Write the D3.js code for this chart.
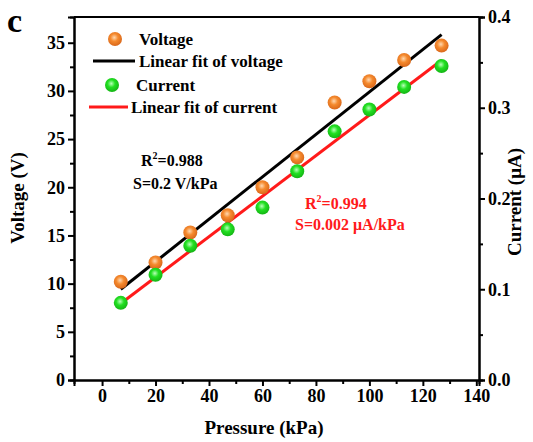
<!DOCTYPE html>
<html>
<head>
<meta charset="utf-8">
<script src="https://cdn.jsdelivr.net/npm/d3@7"></script>
<style>
  body { margin: 0; background: #fff; }
  text { font-family: "Liberation Serif", "Times New Roman", serif; font-weight: bold; }
</style>
</head>
<body>
<svg id="chart"></svg>
<script>
var pressure = [7, 20, 33, 47, 60, 73, 87, 100, 113, 127];
var voltage = [10.2, 12.2, 15.3, 17.1, 20.0, 23.1, 28.8, 31.0, 33.2, 34.7];
var current = [0.085, 0.116, 0.148, 0.166, 0.190, 0.230, 0.274, 0.298, 0.323, 0.346];
var xTicks = [0, 20, 40, 60, 80, 100, 120, 140];
var vTicks = [0, 5, 10, 15, 20, 25, 30, 35];
var cTicks = [0.0, 0.1, 0.2, 0.3, 0.4];

var width = 533, height = 442;
var margin = {top: 17, right: 54, bottom: 62, left: 74};

var svg = d3.select("#chart").attr("width", width).attr("height", height);

var x = d3.scaleLinear().domain([-10.5, 141]).range([margin.left, width - margin.right]);
var yV = d3.scaleLinear().domain([0, 37.67]).range([height - margin.bottom, margin.top]);
var yC = d3.scaleLinear().domain([0, 0.4]).range([height - margin.bottom, margin.top]);

// ball gradients
var defs = svg.append("defs");
function ball(id, c0, c1, c2) {
    var g = defs.append("radialGradient").attr("id", id)
        .attr("cx", "45%").attr("cy", "40%").attr("r", "60%");
    g.append("stop").attr("offset", "0%").attr("stop-color", c0);
    g.append("stop").attr("offset", "45%").attr("stop-color", c1);
    g.append("stop").attr("offset", "100%").attr("stop-color", c2);
}
ball("orangeBall", "#ffd8b0", "#f58a2e", "#d9671a");
ball("greenBall", "#b8ffb8", "#22e022", "#14b414");

// linear regression
function fit(xs, ys) {
    var mx = d3.mean(xs), my = d3.mean(ys);
    var sxy = d3.sum(xs, (d, i) => (d - mx) * (ys[i] - my));
    var sxx = d3.sum(xs, d => (d - mx) * (d - mx));
    var b = sxy / sxx;
    return {a: my - b * mx, b: b};
}
var fv = fit(pressure, voltage);
var fc = fit(pressure, current);
var x0 = d3.min(pressure), x1 = d3.max(pressure);

// axes
var bottom = height - margin.bottom;
svg.append("g").attr("transform", "translate(0," + bottom + ")")
    .call(d3.axisBottom(x).tickValues(xTicks).tickSize(6).tickPadding(3).tickFormat(d3.format("d")));
svg.append("g").attr("transform", "translate(0," + bottom + ")")
    .call(d3.axisBottom(x).tickValues(d3.range(10, 140, 20)).tickSize(4).tickFormat(""));

svg.append("g").attr("transform", "translate(" + margin.left + ",0)")
    .call(d3.axisLeft(yV).tickValues(vTicks).tickSize(6).tickPadding(3).tickFormat(d3.format("d")));
svg.append("g").attr("transform", "translate(" + margin.left + ",0)")
    .call(d3.axisLeft(yV).tickValues(d3.range(2.5, 37, 5)).tickSize(4).tickFormat(""));

var rx = width - margin.right;
svg.append("g").attr("transform", "translate(" + rx + ",0)")
    .call(d3.axisRight(yC).tickValues(cTicks).tickSize(6).tickPadding(3).tickFormat(d3.format(".1f")));
svg.append("g").attr("transform", "translate(" + rx + ",0)")
    .call(d3.axisRight(yC).tickValues([0.05, 0.15, 0.25, 0.35]).tickSize(4).tickFormat(""));

svg.selectAll(".domain").attr("stroke", "#000").attr("stroke-width", 2);
svg.selectAll(".tick line").attr("stroke", "#000").attr("stroke-width", 2);
svg.selectAll(".tick text").attr("fill", "#000").style("font-size", "18px")
    .style("font-family", "Liberation Serif").style("font-weight", "bold");

// top frame
svg.append("line").attr("x1", margin.left).attr("x2", rx)
    .attr("y1", margin.top).attr("y2", margin.top)
    .attr("stroke", "#000").attr("stroke-width", 2);

// fit lines
svg.append("line")
    .attr("x1", x(x0)).attr("y1", yV(fv.a + fv.b * x0))
    .attr("x2", x(x1)).attr("y2", yV(fv.a + fv.b * x1))
    .attr("stroke", "#000").attr("stroke-width", 3);
svg.append("line")
    .attr("x1", x(x0)).attr("y1", yC(fc.a + fc.b * x0))
    .attr("x2", x(x1)).attr("y2", yC(fc.a + fc.b * x1))
    .attr("stroke", "#ff1a1a").attr("stroke-width", 3);

// points
svg.selectAll(".vpt").data(pressure).enter().append("circle")
    .attr("cx", d => x(d)).attr("cy", (d, i) => yV(voltage[i]))
    .attr("r", 7).attr("fill", "url(#orangeBall)");
svg.selectAll(".cpt").data(pressure).enter().append("circle")
    .attr("cx", d => x(d)).attr("cy", (d, i) => yC(current[i]))
    .attr("r", 7).attr("fill", "url(#greenBall)");

// legend
var leg = svg.append("g").style("font-size", "17px");
leg.append("circle").attr("cx", 115).attr("cy", 39).attr("r", 7).attr("fill", "url(#orangeBall)");
leg.append("text").attr("x", 139).attr("y", 45).text("Voltage");
leg.append("line").attr("x1", 93).attr("x2", 135).attr("y1", 61).attr("y2", 61)
    .attr("stroke", "#000").attr("stroke-width", 3);
leg.append("text").attr("x", 139).attr("y", 67).text("Linear fit of voltage");
leg.append("circle").attr("cx", 112).attr("cy", 85).attr("r", 7).attr("fill", "url(#greenBall)");
leg.append("text").attr("x", 136).attr("y", 91).text("Current");
leg.append("line").attr("x1", 89).attr("x2", 128).attr("y1", 107).attr("y2", 107)
    .attr("stroke", "#ff1a1a").attr("stroke-width", 3);
leg.append("text").attr("x", 131).attr("y", 113).text("Linear fit of current");

// annotations
var ann = svg.append("g").style("font-size", "16px");
var t1 = ann.append("text").attr("x", 141).attr("y", 166);
t1.append("tspan").text("R");
t1.append("tspan").attr("dy", -7).style("font-size", "10px").text("2");
t1.append("tspan").attr("dy", 7).text("=0.988");
ann.append("text").attr("x", 133).attr("y", 189).text("S=0.2 V/kPa");
var t2 = ann.append("text").attr("x", 305).attr("y", 209).attr("fill", "#ff1a1a");
t2.append("tspan").text("R");
t2.append("tspan").attr("dy", -7).style("font-size", "10px").text("2");
t2.append("tspan").attr("dy", 7).text("=0.994");
ann.append("text").attr("x", 295).attr("y", 230).attr("fill", "#ff1a1a").text("S=0.002 μA/kPa");

// axis titles
svg.append("text").attr("x", 264).attr("y", 434)
    .attr("text-anchor", "middle").style("font-size", "19px").text("Pressure (kPa)");
svg.append("text").attr("transform", "translate(24,198) rotate(-90)")
    .attr("text-anchor", "middle").style("font-size", "19px").text("Voltage (V)");
svg.append("text").attr("transform", "translate(521,202) rotate(-90)")
    .attr("text-anchor", "middle").style("font-size", "19px").text("Current (μA)");

// panel label
svg.append("text").attr("x", 7).attr("y", 32).style("font-size", "34px").text("c");
</script>
</body>
</html>
